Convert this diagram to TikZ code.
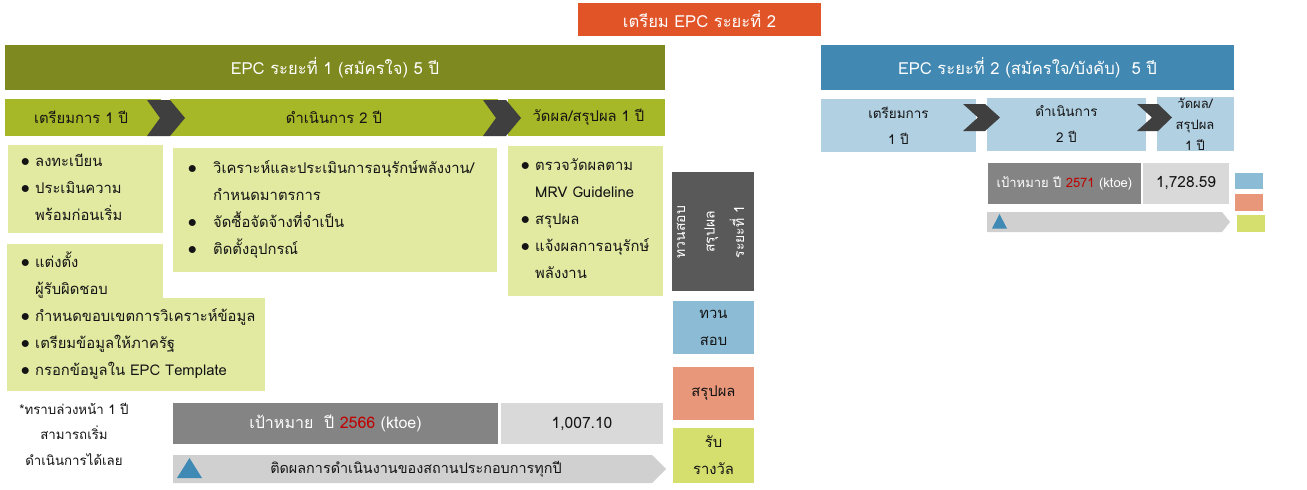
\documentclass[tikz,border=0pt]{standalone}
\usepackage{fontspec}
\setmainfont[Script=Thai]{Loma}
\definecolor{cOrange}{HTML}{E05428}
\definecolor{cOlive}{HTML}{7E8A1F}
\definecolor{cStage}{HTML}{A6B727}
\definecolor{cPale}{HTML}{E2EAA2}
\definecolor{cChev}{HTML}{3F3F3F}
\definecolor{cBlueHead}{HTML}{4188B2}
\definecolor{cBlueStage}{HTML}{B1D0E2}
\definecolor{cGoal}{HTML}{848484}
\definecolor{cValue}{HTML}{D9D9D9}
\definecolor{cBar}{HTML}{D0D0D0}
\definecolor{cTri}{HTML}{3E8AB5}
\definecolor{cDark}{HTML}{595959}
\definecolor{cCheck}{HTML}{8CBBD6}
\definecolor{cSum}{HTML}{E9977B}
\definecolor{cAward}{HTML}{D4DF6E}
\definecolor{cRed}{HTML}{C00000}
\definecolor{cInk}{HTML}{141414}
\newcommand{\fs}[2]{\fontsize{#1}{#2}\selectfont}
\newcommand{\bul}{\makebox[9pt][l]{\scalebox{1.25}{$\bullet$}}}
\newcommand{\blist}[2]{\begin{tabular}[t]{@{}l@{\hspace{#1}}l@{}}#2\end{tabular}}
% a filled box given by its corners, with centred text
\newcommand{\cell}[7]{%
  \pgfmathsetmacro\cw{#4-#2}\pgfmathsetmacro\ch{#5-#3}%
  \pgfmathsetmacro\cx{(#2+#4)/2}\pgfmathsetmacro\cy{(#3+#5)/2}%
  \node[cell,#6,minimum width=\cw pt,minimum height=\ch pt] (#1) at (\cx,\cy) {#7};}
\begin{document}
\begin{tikzpicture}[x=1pt,y=-1pt,
  cell/.style={inner sep=0pt,outer sep=0pt,align=center},
  head/.style={text=white,font=\fs{16.6}{20}},
  stage/.style={text=cInk,font=\fs{14.8}{18}},
  stagetwo/.style={text=cInk,font=\fs{13.5}{26}},
  listtxt/.style={inner sep=0pt,anchor=base west,text=cInk,font=\fs{14.8}{27}},
  chev/.style={fill=cChev},
  bar/.style={fill=cBar},
  tri/.style={fill=cTri}]
\useasboundingbox (0,0) rectangle (1307,490);

% ---- headers
\cell{prep}{578}{3}{821}{36}{head,fill=cOrange}{เตรียม EPC ระยะที่ 2}
\cell{phaseA}{5}{45}{665}{90}{head,fill=cOlive}{EPC ระยะที่ 1 (สมัครใจ) 5 ปี}
\cell{phaseB}{821}{45}{1234}{90}{head,fill=cBlueHead}{EPC ระยะที่ 2 (สมัครใจ/บังคับ)\ \ 5 ปี}

% ---- phase 1 stages
\cell{sA1}{5}{99}{161}{136}{stage,fill=cStage}{\hspace{-4pt}เตรียมการ 1 ปี}
\cell{sA2}{170}{99}{498}{136}{stage,fill=cStage}{ดำเนินการ 2 ปี}
\cell{sA3}{508}{99}{665}{136}{stage,fill=cStage}{\hspace{4pt}วัดผล/สรุปผล 1 ปี}
\fill[chev] (147,100) -- (170,100) -- (185,118) -- (170,136) -- (147,136) -- (160,118) -- cycle;
\fill[chev] (483,100) -- (506,100) -- (521,118) -- (506,136) -- (483,136) -- (496,118) -- cycle;

% ---- phase 1 task boxes
\cell{tA}{8}{145}{163}{233}{fill=cPale}{}
\cell{tB}{173}{148}{497}{272}{fill=cPale}{}
\cell{tC}{508}{146}{663}{296}{fill=cPale}{}
\cell{tD1}{7}{244}{163}{391}{fill=cPale}{}
\cell{tD2}{7}{298}{265}{391}{fill=cPale}{}

\node[listtxt] (lA) at (20.6,166) {\blist{5.4pt}{%
  \bul & ลงทะเบียน\\
  \bul & ประเมินความ\\
       & พร้อมก่อนเริ่ม}};
\node[listtxt] (lB) at (187.6,173) {\blist{16.4pt}{%
  \bul & วิเคราะห์และประเมินการอนุรักษ์พลังงาน/\\
       & กำหนดมาตรการ\\
  \bul & จัดซื้อจัดจ้างที่จำเป็น\\
  \bul & ติดตั้งอุปกรณ์}};
\node[listtxt] (lC) at (520.6,170.5) {\blist{5.4pt}{%
  \bul & ตรวจวัดผลตาม\\
       & MRV Guideline\\
  \bul & สรุปผล\\
  \bul & แจ้งผลการอนุรักษ์\\
       & พลังงาน}};
\node[listtxt] (lD) at (20.6,267.5) {\blist{5.4pt}{%
  \bul & แต่งตั้ง\\
       & ผู้รับผิดชอบ\\
  \bul & กำหนดขอบเขตการวิเคราะห์ข้อมูล\\
  \bul & เตรียมข้อมูลให้ภาครัฐ\\
  \bul & กรอกข้อมูลใน EPC Template}};

\node[cell,text=cInk,font=\fs{13.3}{25.5}] (note) at (74,434)
  {*ทราบล่วงหน้า 1 ปี\\สามารถเริ่ม\\ดำเนินการได้เลย};

% ---- phase 1 target and follow-up bar
\cell{goalA}{173}{403}{498}{444}{fill=cGoal,text=white,font=\fs{16}{20}}{เป้าหมาย\ \ ปี {\color{cRed}2566} (ktoe)}
\cell{valA}{501}{403}{663}{444}{fill=cValue,text=cInk,font=\fs{15.6}{20}}{1,007.10}
\fill[bar] (173,455) -- (652,455) -- (666,469) -- (652,483) -- (173,483) -- cycle;
\fill[tri] (177,478) -- (189.5,458) -- (202,478) -- cycle;
\node[cell,text=cInk,font=\fs{14.4}{18}] (follow) at (416,469) {ติดผลการดำเนินงานของสถานประกอบการทุกปี};

% ---- right-hand column
\cell{review}{672}{172}{754}{291}{fill=cDark}{}
\node[cell,rotate=90,text=white,font=\fs{14}{29.5}] (reviewtxt) at (710.5,232) {ทวนสอบ\\สรุปผล\\ระยะที่ 1};
\cell{chk}{673}{301}{754}{354}{fill=cCheck,text=cInk,font=\fs{14.8}{27}}{ทวน\\สอบ}
\cell{sumr}{673}{367}{754}{420}{fill=cSum,text=cInk,font=\fs{14.8}{27}}{สรุปผล}
\cell{award}{673}{428}{754}{483}{fill=cAward,text=cInk,font=\fs{14.8}{27}}{รับ\\รางวัล}

% ---- phase 2 stages
\cell{sB1}{821}{99}{976}{152}{stagetwo,fill=cBlueStage}{เตรียมการ\\1 ปี}
\cell{sB2}{987}{98}{1146}{151}{stagetwo,fill=cBlueStage}{ดำเนินการ\\2 ปี}
\cell{sB3}{1157}{97}{1234}{151}{fill=cBlueStage}{}
\node[cell,text=cInk,font=\fs{13}{21}] (sB3txt) at (1195,124) {วัดผล/\\สรุปผล\\1 ปี};
\fill[chev] (963,104) -- (985,104) -- (1000,117.5) -- (985,131) -- (963,131) -- (978,117.5) -- cycle;
\fill[chev] (1137,104) -- (1158,104) -- (1172,117.5) -- (1158,131) -- (1137,131) -- (1152,117.5) -- cycle;

% ---- phase 2 target and follow-up bar
\cell{goalB}{988}{163}{1141}{204}{fill=cGoal,text=white,font=\fs{13}{18}}{เป้าหมาย ปี {\color{cRed}2571} (ktoe)}
\cell{valB}{1143}{163}{1229}{204}{fill=cValue,text=cInk,font=\fs{15.4}{20}}{1,728.59}
\fill[bar] (987,212) -- (1222,212) -- (1230,222) -- (1222,232) -- (987,232) -- cycle;
\fill[tri] (992,228.5) -- (999.5,214) -- (1007,228.5) -- cycle;

% ---- colour key
\cell{kBlue}{1235}{173}{1263}{189}{fill=cCheck}{}
\cell{kSalmon}{1235}{194}{1263}{211}{fill=cSum}{}
\cell{kGreen}{1237}{215}{1265}{232}{fill=cAward}{}
\end{tikzpicture}
\end{document}
